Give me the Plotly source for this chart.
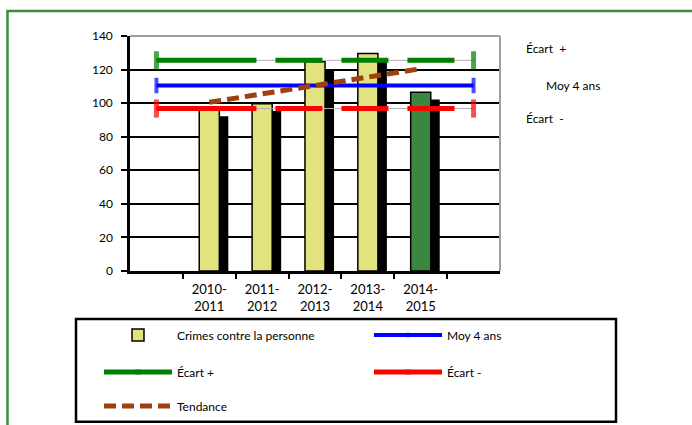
import plotly.graph_objects as go

# ---- data ----
periods = ["2010-<br>2011", "2011-<br>2012", "2012-<br>2013", "2013-<br>2014", "2014-<br>2015"]
period_pos = [1, 2, 3, 4, 5]
line_pos = [0, 1, 2, 3, 4, 5, 6]
crimes = [96.5, 99.6, 124.6, 129.6, 106.5]
moy_4ans = [110.5, 110.5, 110.5, 110.5, 110.5, 110.5, 110.5]
ecart_plus = [125.5, 125.5, 125.5, 125.5, 125.5, 125.5, 125.5]
ecart_minus = [96.8, 96.8, 96.8, 96.8, 96.8, 96.8, 96.8]
tendance = [100.5, 105.5, 110.5, 115.5, 120.5]
y_ticks = [0, 20, 40, 60, 80, 100, 120, 140]

YELLOW = "#E2E27E"
GREEN_BAR = "#3A873F"
bar_colors = [YELLOW, YELLOW, YELLOW, YELLOW, GREEN_BAR]
FONT = "Lato, 'Liberation Sans', sans-serif"

W, H = 692, 425
L, R, T, B = 130, 192, 35.5, 154
pw, ph = W - L - R, H - T - B


def px_x(px):
    return (px - L) / pw


def px_y(py):
    return (H - B - py) / ph


fig = go.Figure()

# shadow of bars
fig.add_trace(go.Bar(
    x=period_pos, y=crimes, base=-4.3, width=0.38, offset=-0.02,
    marker=dict(color="black", line=dict(width=0)),
    showlegend=False, hoverinfo="skip"))

# bars
fig.add_trace(go.Bar(
    x=period_pos, y=crimes, width=0.38,
    marker=dict(color=bar_colors, line=dict(color="black", width=1.5)),
    name="Crimes contre la personne", legend="legend"))

# thin gray lines behind dashed ecart lines
for vals in (ecart_plus, ecart_minus):
    fig.add_trace(go.Scatter(
        x=line_pos, y=vals, mode="lines",
        line=dict(color="#B0B0B0", width=1),
        showlegend=False, hoverinfo="skip"))

end_sizes = [13, 0, 0, 0, 0, 0, 13]
dash_pat = "100px,19px,47px,19px,47px,19px,47px,19px"

fig.add_trace(go.Scatter(
    x=line_pos, y=moy_4ans, mode="lines+markers", name="Moy 4 ans",
    line=dict(color="#0000FF", width=4),
    marker=dict(symbol="line-ns", size=[11, 0, 0, 0, 0, 0, 11],
                line=dict(color="#0000FF", width=4)),
    legend="legend2"))

fig.add_trace(go.Scatter(
    x=line_pos, y=ecart_plus, mode="lines+markers", name="Écart +",
    line=dict(color="#008000", width=5, dash=dash_pat),
    marker=dict(symbol="line-ns", size=end_sizes,
                line=dict(color="#008000", width=5)),
    legend="legend3"))

fig.add_trace(go.Scatter(
    x=line_pos, y=ecart_minus, mode="lines+markers", name="Écart -",
    line=dict(color="#FF0000", width=5, dash=dash_pat),
    marker=dict(symbol="line-ns", size=end_sizes,
                line=dict(color="#FF0000", width=5)),
    legend="legend4"))

fig.add_trace(go.Scatter(
    x=period_pos, y=tendance, mode="lines", name="Tendance",
    line=dict(color="#A0400C", width=5, dash="12px,6px"),
    legend="legend5"))

leg_common = dict(
    orientation="v", xanchor="left", yanchor="middle",
    xref="container", yref="container",
    font=dict(family=FONT, size=12, color="black"),
    bgcolor="rgba(0,0,0,0)", borderwidth=0,
    itemwidth=68)

shapes = [
    # outer green frame
    dict(type="rect", xref="paper", yref="paper",
         x0=px_x(7.5), y0=px_y(600), x1=px_x(900), y1=px_y(10.5),
         line=dict(color="#3A8A3A", width=2.5), layer="below"),
    # legend box
    dict(type="rect", xref="paper", yref="paper",
         x0=px_x(76), y0=px_y(422), x1=px_x(616), y1=px_y(319),
         line=dict(color="black", width=2.5), layer="below"),
    # plot area top and right border
    dict(type="line", xref="paper", yref="paper", x0=0, x1=1, y0=1, y1=1,
         line=dict(color="#A0A0A0", width=2), layer="above"),
    dict(type="line", xref="paper", yref="paper", x0=1, x1=1, y0=0, y1=1,
         line=dict(color="#A0A0A0", width=2), layer="above"),
]

annotations = [
    dict(text="Écart\u00a0 +", xref="paper", yref="paper", x=px_x(524), y=px_y(48),
         xanchor="left", yanchor="middle", showarrow=False,
         font=dict(family=FONT, size=12, color="black")),
    dict(text="Moy 4 ans", xref="paper", yref="paper", x=px_x(544), y=px_y(85),
         xanchor="left", yanchor="middle", showarrow=False,
         font=dict(family=FONT, size=12, color="black")),
    dict(text="Écart\u00a0 -", xref="paper", yref="paper", x=px_x(524), y=px_y(118),
         xanchor="left", yanchor="middle", showarrow=False,
         font=dict(family=FONT, size=12, color="black")),
]

C1, C2 = 99 / W, 369 / W
R1, R2, R3 = 1 - 335 / H, 1 - 372 / H, 1 - 406 / H

fig.update_layout(
    width=W, height=H,
    margin=dict(l=L, r=R, t=T, b=B, pad=0, autoexpand=False),
    paper_bgcolor="white", plot_bgcolor="white",
    barmode="overlay",
    font=dict(family=FONT, size=12, color="black"),
    showlegend=True,
    legend=dict(x=C1, y=R1, **leg_common),
    legend2=dict(x=C2, y=R1, **leg_common),
    legend3=dict(x=C1, y=R2, **leg_common),
    legend4=dict(x=C2, y=R2, **leg_common),
    legend5=dict(x=C1, y=R3, **leg_common),
    shapes=shapes,
    annotations=annotations,
    xaxis=dict(
        range=[-0.5, 6.5], tickmode="array", tickvals=period_pos, ticktext=periods,
        ticks="", showgrid=False, zeroline=False,
        showline=True, linecolor="black", linewidth=2.5,
        tickfont=dict(family=FONT, size=13, color="black"),
        ticklabelstandoff=5,
        minor=dict(tickmode="array", tickvals=[0.5, 1.5, 2.5, 3.5, 4.5, 5.5],
                   ticks="outside", ticklen=5, tickcolor="black", tickwidth=1.5,
                   showgrid=False),
        fixedrange=True),
    yaxis=dict(
        range=[0, 140], tickmode="array", tickvals=y_ticks,
        ticks="outside", ticklen=6, tickcolor="black", tickwidth=1.5,
        showgrid=True, gridcolor="black", gridwidth=1.5,
        zeroline=False, showline=True, linecolor="black", linewidth=2.5,
        tickfont=dict(family=FONT, size=12, color="black"),
        ticklabelstandoff=6,
        fixedrange=True),
)

fig.write_html("out.html", config={"displayModeBar": False},
               post_script="document.body.style.margin='0';document.body.style.overflow='hidden';")
